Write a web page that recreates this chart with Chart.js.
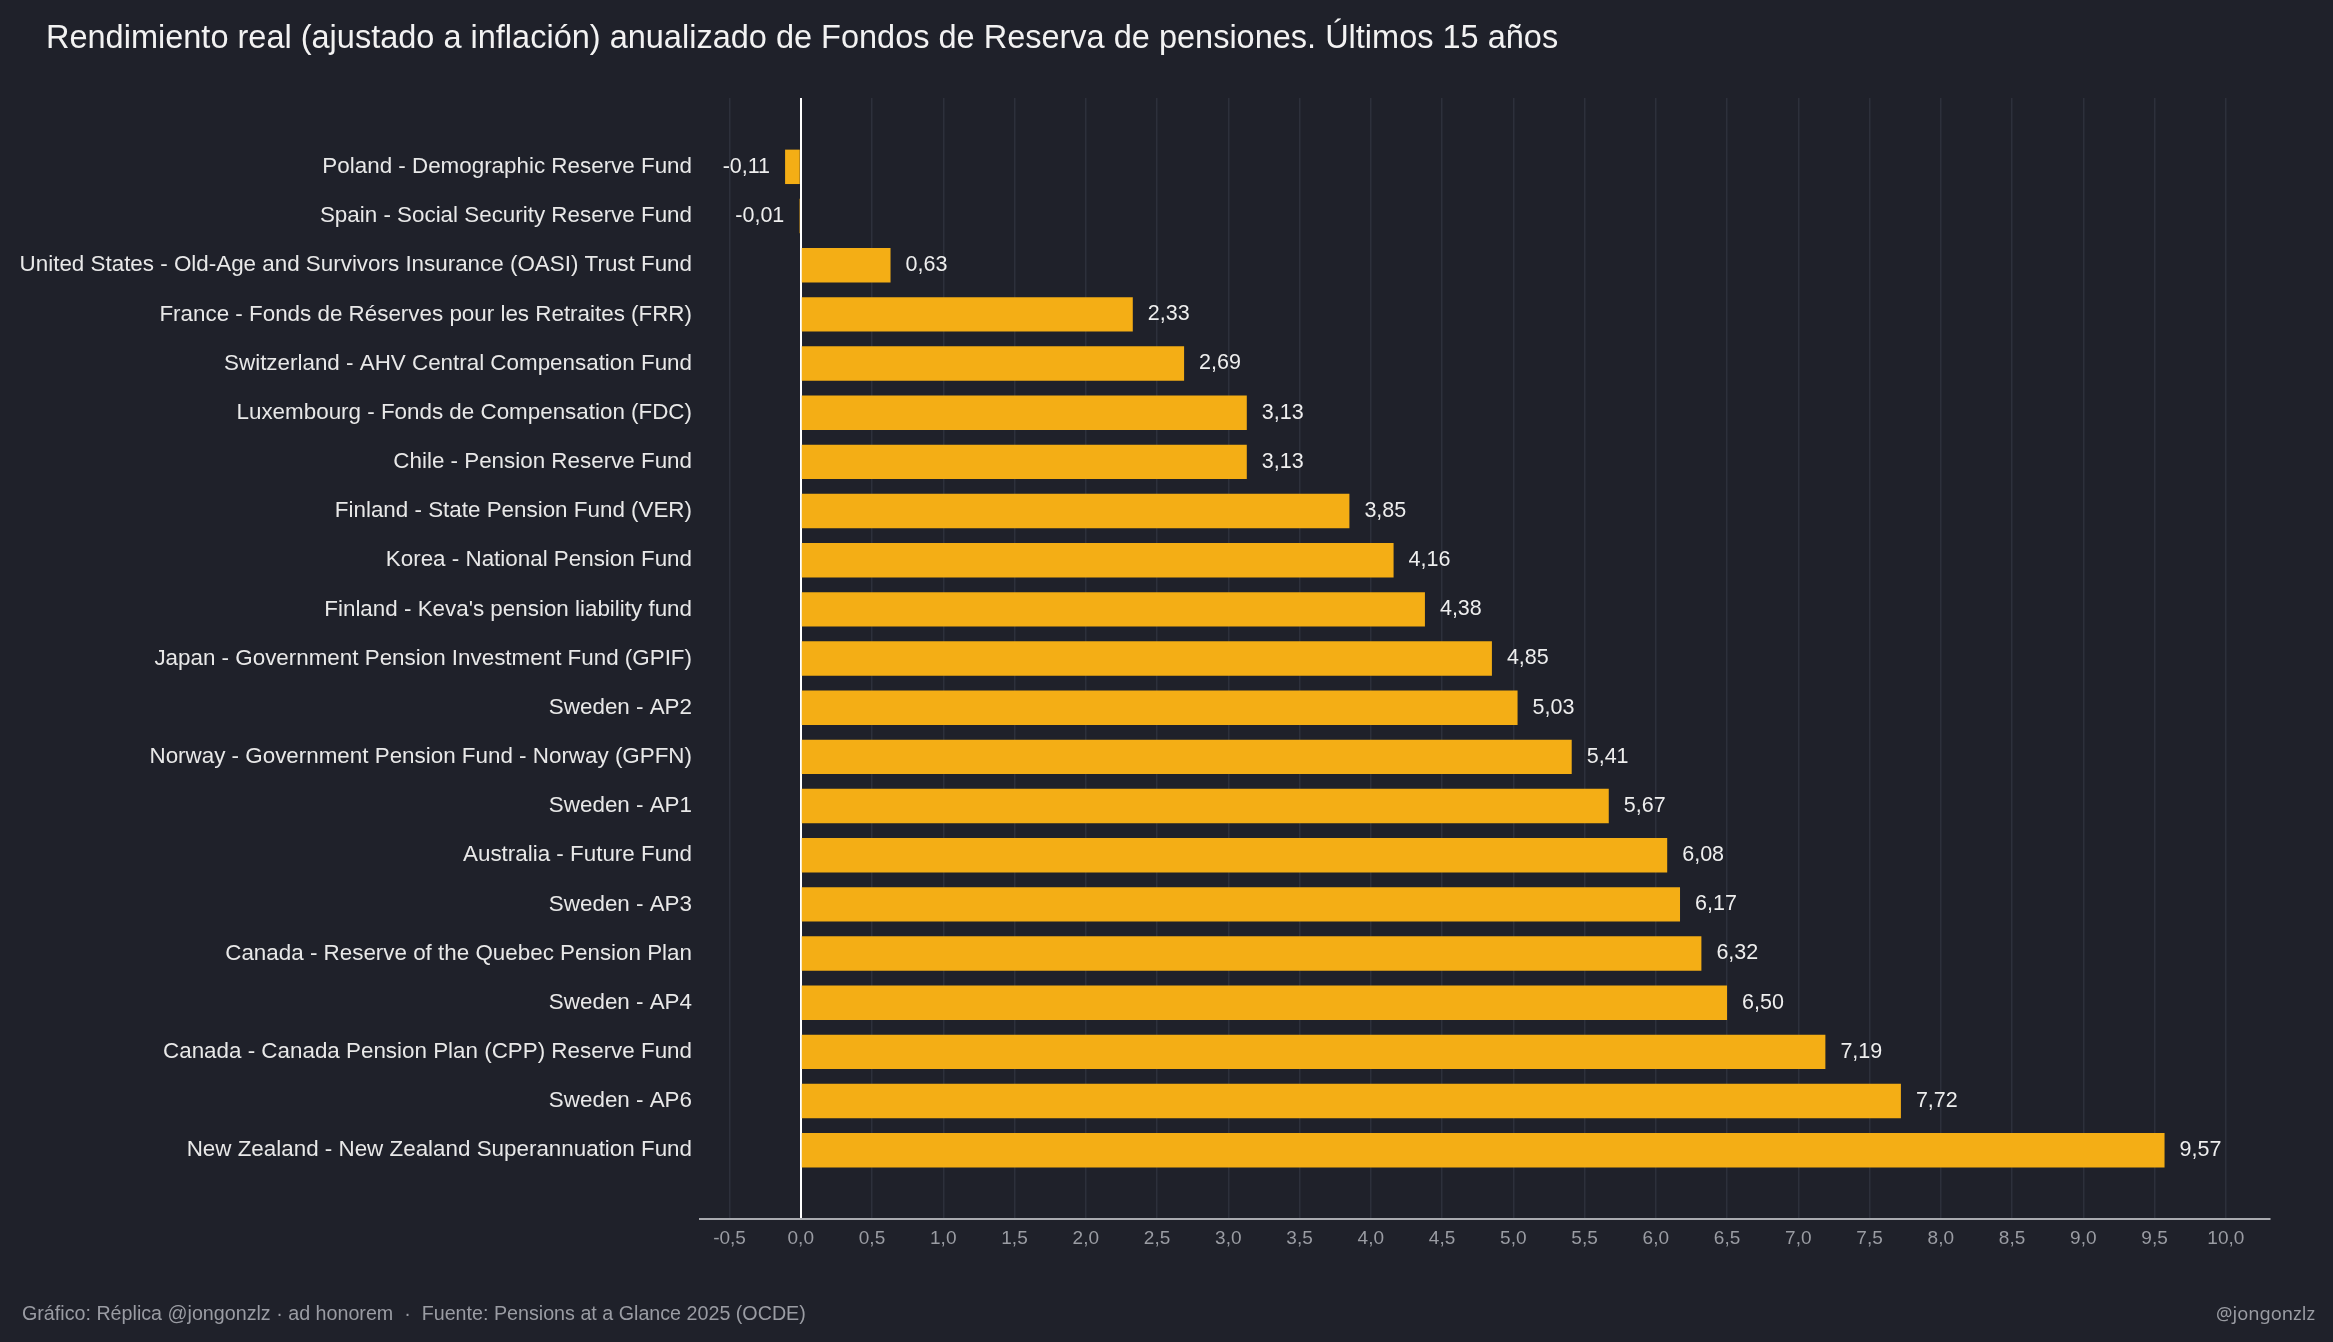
<!DOCTYPE html>
<html lang="es">
<head>
<meta charset="utf-8">
<title>Rendimiento real Fondos de Reserva</title>
<script src="https://cdn.jsdelivr.net/npm/chart.js@4.4.1/dist/chart.umd.min.js"></script>
<style>
    html, body {
        margin: 0;
        padding: 0;
        background: #1f212a;
        width: 2333px;
        height: 1342px;
        overflow: hidden;
        font-family: "Liberation Sans", Arial, Helvetica, sans-serif;
    }
    #wrap {
        position: absolute;
        left: 0;
        top: 0;
        width: 2333px;
        height: 1342px;
    }
    #title {
        position: absolute;
        left: 46px;
        top: 19px;
        font-size: 32.5px;
        color: #f2f2f2;
        white-space: nowrap;
    }
    #source {
        position: absolute;
        left: 22px;
        top: 1302px;
        font-size: 19.7px;
        color: #9a9ca3;
        white-space: pre;
    }
    #handle {
        position: absolute;
        right: 18px;
        top: 1300px;
        font-family: "Noto Sans", sans-serif;
        font-size: 18.3px;
        color: #9a9ca3;
    }
</style>
</head>
<body>
<div id="wrap">
    <canvas id="chart" width="2333" height="1342"></canvas>
</div>
<div id="title">Rendimiento real (ajustado a inflación) anualizado de Fondos de Reserva de pensiones. Últimos 15 años</div>
<div id="source">Gráfico: Réplica @jongonzlz · ad honorem  ·  Fuente: Pensions at a Glance 2025 (OCDE)</div>
<div id="handle">@jongonzlz</div>

<script>
// Data
const funds = [
    'Poland - Demographic Reserve Fund',
    'Spain - Social Security Reserve Fund',
    'United States - Old-Age and Survivors Insurance (OASI) Trust Fund',
    'France - Fonds de Réserves pour les Retraites (FRR)',
    'Switzerland - AHV Central Compensation Fund',
    'Luxembourg - Fonds de Compensation (FDC)',
    'Chile - Pension Reserve Fund',
    'Finland - State Pension Fund (VER)',
    'Korea - National Pension Fund',
    "Finland - Keva's pension liability fund",
    'Japan - Government Pension Investment Fund (GPIF)',
    'Sweden - AP2',
    'Norway - Government Pension Fund - Norway (GPFN)',
    'Sweden - AP1',
    'Australia - Future Fund',
    'Sweden - AP3',
    'Canada - Reserve of the Quebec Pension Plan',
    'Sweden - AP4',
    'Canada - Canada Pension Plan (CPP) Reserve Fund',
    'Sweden - AP6',
    'New Zealand - New Zealand Superannuation Fund'
];

const realReturns = [-0.11, -0.01, 0.63, 2.33, 2.69, 3.13, 3.13, 3.85, 4.16, 4.38, 4.85,
    5.03, 5.41, 5.67, 6.08, 6.17, 6.32, 6.50, 7.19, 7.72, 9.57];

const xTicks = [-0.5, 0, 0.5, 1, 1.5, 2, 2.5, 3, 3.5, 4, 4.5, 5, 5.5, 6, 6.5, 7, 7.5,
    8, 8.5, 9, 9.5, 10];

const fmt = (v, d) => v.toFixed(d).replace('.', ',');

// Value labels next to each bar
const valueLabels = {
    id: 'valueLabels',
    afterDatasetsDraw(chart) {
        const ctx = chart.ctx;
        const meta = chart.getDatasetMeta(0);
        ctx.save();
        ctx.font = '21.5px "Liberation Sans", Arial, sans-serif';
        ctx.fillStyle = '#eeeeee';
        ctx.textBaseline = 'middle';
        meta.data.forEach((bar, i) => {
            const v = realReturns[i];
            if (v < 0) {
                ctx.textAlign = 'right';
                ctx.fillText(fmt(v, 2), bar.x - 15, bar.y);
            } else {
                ctx.textAlign = 'left';
                ctx.fillText(fmt(v, 2), bar.x + 15, bar.y);
            }
        });
        ctx.restore();
    }
};

const ctx = document.getElementById('chart').getContext('2d');
new Chart(ctx, {
    type: 'bar',
    data: {
        datasets: [{
            label: 'Rendimiento real',
            data: realReturns.map((v, i) => ({ x: v, y: i })),
            backgroundColor: '#f4ae15',
            borderWidth: 0,
            barPercentage: 0.7,
            categoryPercentage: 1
        }]
    },
    plugins: [valueLabels],
    options: {
        indexAxis: 'y',
        responsive: false,
        animation: false,
        layout: {
            padding: { top: 98, right: 63, bottom: 0, left: 0 }
        },
        plugins: {
            legend: { display: false },
            tooltip: { enabled: false }
        },
        scales: {
            x: {
                type: 'linear',
                min: -0.707,
                max: 10.31,
                afterBuildTicks: (scale) => {
                    scale.ticks = xTicks.map(v => ({ value: v }));
                },
                afterFit: (scale) => { scale.height = 123; },
                grid: {
                    drawTicks: false,
                    color: (c) => c.tick && c.tick.value === 0 ? '#ffffff' : '#2d303b',
                    lineWidth: (c) => c.tick && c.tick.value === 0 ? 2 : 1.5
                },
                border: { color: '#a9abb0', width: 2 },
                ticks: {
                    padding: 8,
                    color: '#9a9ca3',
                    font: { family: '"Liberation Sans", Arial, sans-serif', size: 19 },
                    callback: (v) => fmt(v, 1)
                }
            },
            y: {
                type: 'linear',
                reverse: true,
                offset: false,
                min: -1.4,
                max: 21.4,
                afterBuildTicks: (scale) => {
                    scale.ticks = funds.map((f, i) => ({ value: i }));
                },
                afterFit: (scale) => { scale.width = 700; },
                grid: { display: false, drawTicks: false },
                border: { display: false },
                ticks: {
                    padding: 8,
                    color: '#e8e8e8',
                    font: { family: '"Liberation Sans", Arial, sans-serif', size: 22.4 },
                    callback: (v) => funds[v]
                }
            }
        }
    }
});
</script>
</body>
</html>
